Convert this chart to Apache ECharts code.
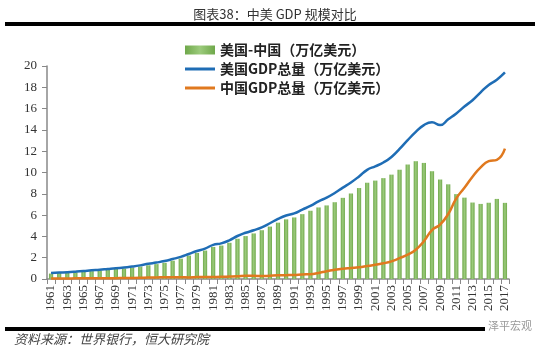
<!DOCTYPE html>
<html>
<head>
<meta charset="utf-8">
<script src="https://cdn.jsdelivr.net/npm/echarts@6/dist/echarts.min.js"></script>
<style>
  body { margin: 0; background: #fff; }
  #main { width: 550px; height: 352px; }
</style>
</head>
<body>
<div id="main"></div>
<script>
// DADOS
var anos = [];
for (var a = 1961; a <= 2017; a++) anos.push(String(a));

var eua = [0.563, 0.605, 0.638, 0.686, 0.744, 0.815, 0.862, 0.943, 1.019, 1.073,
  1.165, 1.280, 1.425, 1.545, 1.684, 1.873, 2.082, 2.352, 2.627, 2.857,
  3.207, 3.343, 3.634, 4.037, 4.339, 4.579, 4.855, 5.236, 5.642, 5.963,
  6.158, 6.520, 6.859, 7.287, 7.640, 8.073, 8.578, 9.063, 9.631, 10.252,
  10.582, 10.936, 11.458, 12.214, 13.037, 13.815, 14.452, 14.713, 14.449, 14.992,
  15.543, 16.197, 16.785, 17.527, 18.224, 18.715, 19.400];

var china = [0.050, 0.047, 0.051, 0.060, 0.071, 0.077, 0.073, 0.071, 0.080, 0.093,
  0.100, 0.114, 0.139, 0.144, 0.163, 0.154, 0.175, 0.149, 0.178, 0.191,
  0.196, 0.205, 0.231, 0.260, 0.309, 0.301, 0.273, 0.312, 0.348, 0.361,
  0.383, 0.427, 0.445, 0.564, 0.734, 0.864, 0.962, 1.029, 1.094, 1.211,
  1.339, 1.471, 1.660, 1.955, 2.286, 2.752, 3.552, 4.598, 5.110, 6.101,
  7.573, 8.561, 9.607, 10.482, 11.065, 11.191, 12.238];

var diferenca = [0.51, 0.56, 0.59, 0.63, 0.67, 0.74, 0.79, 0.87, 0.94, 0.98,
  1.07, 1.17, 1.29, 1.40, 1.52, 1.72, 1.91, 2.20, 2.45, 2.67,
  3.01, 3.14, 3.40, 3.78, 4.03, 4.28, 4.58, 4.92, 5.29, 5.60,
  5.78, 6.09, 6.41, 6.72, 6.91, 7.21, 7.62, 8.03, 8.54, 9.04,
  9.24, 9.47, 9.80, 10.26, 10.75, 11.06, 10.90, 10.12, 9.34, 8.89,
  7.97, 7.64, 7.18, 7.05, 7.16, 7.52, 7.15];

var nomes = ['美国-中国（万亿美元）', '美国GDP总量（万亿美元）', '中国GDP总量（万亿美元）'];

var iconeLinha = 'path://M0,0 L30,0 L30,3 L0,3 Z';

// GRAFICO
var myChart = echarts.init(document.getElementById('main'));

var option = {
  animation: false,
  title: {
    text: '图表38：中美 GDP 规模对比',
    left: 'center',
    top: 3,
    textStyle: { fontFamily: 'Noto Sans CJK SC', fontSize: 13, fontWeight: 'normal', color: '#333' }
  },
  graphic: [
    { type: 'rect', shape: { x: 5, y: 22, width: 530, height: 4 }, style: { fill: '#000' } },
    { type: 'rect', shape: { x: 5, y: 327, width: 480, height: 4 }, style: { fill: '#000' } },
    { type: 'text', left: 14, top: 333,
      style: { text: '资料来源：世界银行，恒大研究院', fontFamily: 'Noto Sans CJK SC', fontSize: 13, fontStyle: 'italic', fill: '#444' } },
    { type: 'text', left: 488, top: 320,
      style: { text: '泽平宏观', fontFamily: 'Noto Sans CJK SC', fontSize: 11, fill: '#999' } }
  ],
  legend: {
    orient: 'vertical',
    left: 180,
    top: 38,
    itemGap: 5,
    itemWidth: 30,
    itemHeight: 9,
    data: [
      { name: nomes[0], icon: 'rect' },
      { name: nomes[1], icon: iconeLinha },
      { name: nomes[2], icon: iconeLinha }
    ],
    textStyle: { fontFamily: 'Noto Sans CJK SC', fontSize: 14, fontWeight: 'bold', color: '#222' }
  },
  grid: { left: 47, right: 41, top: 66, bottom: 73 },
  xAxis: {
    type: 'category',
    data: anos,
    axisLine: { lineStyle: { color: '#888', width: 1.5 } },
    axisTick: { show: true, interval: 0, lineStyle: { color: '#888' } },
    axisLabel: {
      interval: 1, rotate: 90, margin: 6,
      fontFamily: 'Liberation Serif', fontSize: 13, color: '#333'
    }
  },
  yAxis: {
    type: 'value',
    min: 0, max: 20, interval: 2,
    axisLine: { show: true, lineStyle: { color: '#888', width: 1.5 } },
    axisTick: { show: true, lineStyle: { color: '#888' } },
    splitLine: { show: false },
    axisLabel: { fontFamily: 'Liberation Serif', fontSize: 13, color: '#333', margin: 10 }
  },
  series: [
    {
      name: nomes[0],
      type: 'bar',
      data: diferenca,
      barWidth: '52%',
      itemStyle: {
        color: new echarts.graphic.LinearGradient(0, 0, 1, 0, [
          { offset: 0, color: '#6fa84a' },
          { offset: 0.5, color: '#9ccb7c' },
          { offset: 1, color: '#6fa84a' }
        ])
      }
    },
    {
      name: nomes[1],
      type: 'line',
      data: eua,
      smooth: true,
      symbol: 'none',
      lineStyle: { color: '#1f6db5', width: 2.5 },
      itemStyle: { color: '#1f6db5' }
    },
    {
      name: nomes[2],
      type: 'line',
      data: china,
      smooth: true,
      symbol: 'none',
      lineStyle: { color: '#e0791f', width: 2.5 },
      itemStyle: { color: '#e0791f' }
    }
  ]
};
myChart.setOption(option);
</script>
</body>
</html>
